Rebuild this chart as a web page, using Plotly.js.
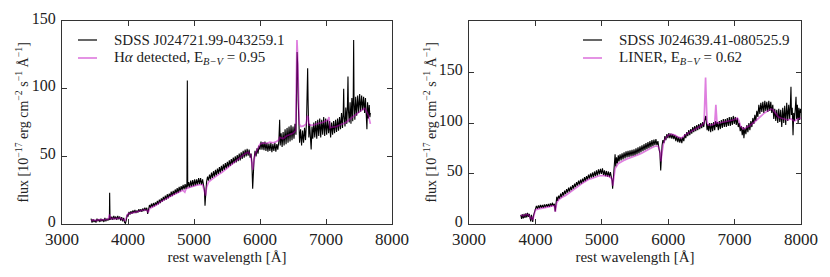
<!DOCTYPE html>
<html>
<head>
<meta charset="utf-8">
<script src="https://cdn.plot.ly/plotly-3.0.1.min.js"></script>
<style>html,body{margin:0;padding:0;background:#fff;}#chart{width:830px;height:277px;}</style>
</head>
<body>
<div id="chart"></div>
<script>
// ---- Left panel: SDSS J024721.99-043259.1 (observed) ----
const leftWave = [3440,3455,3470,3485,3500,3515,3530,3545,3560,3575,3590,3605,3620,3635,3650,3665,3680,3695,3710,3718,3722,3727,3740,3755,3770,3785,3800,3815,3830,3845,3860,3875,3890,3905,3920,3935,3950,3962,3975,3988,4000,4015,4030,4045,4060,4075,4090,4105,4120,4135,4150,4165,4180,4195,4210,4225,4240,4255,4270,4285,4298,4310,4325,4340,4355,4370,4385,4400,4415,4430,4445,4460,4475,4490,4505,4520,4535,4550,4565,4580,4595,4610,4625,4640,4655,4670,4685,4700,4715,4730,4745,4760,4775,4790,4805,4820,4835,4850,4865,4880,4893,4899,4905,4920,4935,4950,4965,4980,4995,5010,5025,5040,5055,5070,5085,5100,5115,5130,5145,5158,5167,5176,5190,5205,5220,5235,5250,5265,5280,5295,5310,5325,5340,5355,5370,5385,5400,5415,5430,5445,5460,5475,5490,5505,5520,5535,5550,5565,5580,5595,5610,5625,5640,5655,5670,5685,5700,5715,5730,5745,5760,5775,5790,5805,5820,5835,5850,5865,5877,5889,5897,5910,5925,5940,5955,5970,5985,6000,6015,6030,6045,6060,6075,6090,6105,6120,6135,6150,6165,6180,6195,6210,6225,6240,6255,6270,6285,6298,6306,6320,6335,6350,6365,6380,6395,6410,6425,6440,6455,6470,6485,6500,6515,6530,6545,6555,6562,6570,6578,6588,6600,6615,6630,6645,6660,6675,6690,6705,6716,6722,6730,6740,6752,6765,6775,6788,6800,6815,6830,6845,6860,6875,6890,6905,6920,6935,6950,6965,6980,6995,7010,7025,7040,7055,7070,7085,7100,7115,7130,7145,7160,7175,7190,7205,7220,7235,7250,7262,7268,7274,7288,7300,7315,7325,7333,7340,7352,7365,7378,7392,7405,7413,7419,7425,7437,7450,7465,7480,7495,7510,7525,7540,7555,7570,7585,7598,7608,7620,7630,7642,7655,7665,7672];
const leftFlux = [4,1,3.5,1.5,3,1,4,2,3.5,1.5,4,2,3.5,1.5,4.5,2,4,2.5,4,3,23,6,3,5.5,3,6,3.5,5.5,3,6,3.5,5.5,2.5,5,2,4.5,1,0.5,3,7,5.5,9,7,9.5,7.5,10,8,10.5,8,10,8.5,11,9,11,9,11.5,9.5,12,10,12,7.5,11,14,12,15,12.5,15.5,13,16,14,17,14.5,18,15.5,19,16.5,20,17.5,21,18,22,19,22.5,20,24,20.5,24.5,21.5,25.5,22.5,26.5,23,27.5,24,28,25,29,25.5,29.5,26,30,106,27,31,27,32,27.5,32.5,28,33,28.5,33,29,34,29.5,34,29,33,28,25,13.5,24,31,35,32,36.5,33,38,34,39,35,40,36,41,37,42,38,43,39,44,40,45,41,46,42,47,43,48,44,49,45,50,45.5,51,46.5,52,47,53,48,54,49,55,50,55.5,50.5,55,49,52,45,26,40,48,54,50,56,52,58,55,61,55,60.5,54.5,61,54,60,53.5,59.5,54,60,53,59,54,60,53.5,59,55,61,77,58,67,57,68,58,70,59,71,60,72,61,73,62,72,63,74,66,100,127,118,92,68,60,70,58,69,60,71,62,76,112,115,88,64,74,60,55,72,63,75,64,76,63,77,65,78,64,77,66,79,65,78,66,77,67,76,64,75,66,76,67,77,68,78,69,79,70,82,71,84,100,80,72,86,74,88,109,84,75,90,74,93,76,95,136,90,77,94,80,95,82,96,83,95,84,94,82,93,80,70,90,78,88,79,82];
// ---- Left panel: model (H-alpha detected, E(B-V)=0.95) ----
const leftModelWave = [3440,3480,3520,3560,3600,3650,3700,3722,3735,3780,3830,3880,3920,3950,3970,4000,4050,4100,4150,4200,4250,4290,4305,4330,4380,4430,4480,4530,4580,4630,4680,4730,4780,4830,4861,4880,4930,4980,5030,5080,5130,5160,5175,5190,5220,5270,5320,5370,5420,5470,5520,5570,5620,5670,5720,5770,5820,5860,5880,5892,5905,5930,5970,6000,6050,6100,6150,6200,6250,6280,6300,6350,6400,6450,6500,6540,6552,6560,6570,6584,6595,6620,6660,6700,6716,6731,6745,6800,6850,6900,6950,7000,7030,7045,7060,7090,7150,7200,7250,7300,7350,7400,7450,7500,7550,7590,7620,7645,7672];
const leftModelFlux = [2.5,3,2.5,3.2,3,3.3,3.5,7,4,4.2,4,4.5,3.5,2.5,4,7.5,8,8.5,9,10,10.5,10,8.5,11.5,12.5,14,16,17.5,19,20,21.5,22.5,24,25,23.5,26,27,28,28.5,29,29,24,21,27,31,33,35,36.5,38,40,42,44,46,48,50,52,53,51,44,40,46,52,56,59,60,59.5,60.5,60,61,62,64,63,65,66,67,69,110,136,125,100,74,72,72.5,74,80,79,73,73,74,74.5,75,76.5,77,79,71,71.5,72,73,74,75,77,79,81,83,84.5,85.5,83,80,74];

// ---- Right panel: SDSS J024639.41-080525.9 (observed) ----
const rightWave = [3780,3792,3805,3818,3830,3843,3856,3869,3882,3895,3908,3920,3930,3940,3950,3960,3970,3985,4000,4015,4030,4045,4060,4075,4090,4105,4120,4135,4150,4165,4180,4195,4210,4225,4240,4255,4270,4285,4298,4310,4322,4335,4350,4365,4380,4395,4410,4425,4440,4455,4470,4485,4500,4515,4530,4545,4560,4575,4590,4605,4620,4635,4650,4665,4680,4695,4710,4725,4740,4755,4770,4785,4800,4815,4830,4845,4860,4875,4890,4905,4920,4935,4950,4965,4980,4995,5010,5025,5040,5055,5070,5085,5100,5115,5130,5145,5155,5163,5172,5185,5200,5210,5222,5235,5248,5260,5275,5290,5305,5320,5335,5350,5365,5380,5395,5410,5425,5440,5455,5470,5485,5500,5515,5530,5545,5560,5575,5590,5605,5620,5635,5650,5665,5680,5695,5710,5725,5740,5755,5770,5785,5800,5815,5830,5845,5860,5875,5887,5896,5908,5920,5935,5950,5965,5980,5995,6010,6025,6040,6055,6070,6085,6100,6115,6130,6145,6160,6175,6190,6205,6220,6235,6250,6265,6280,6295,6310,6325,6340,6355,6370,6385,6400,6415,6430,6445,6460,6475,6490,6505,6520,6535,6548,6558,6566,6575,6586,6598,6610,6625,6640,6655,6670,6685,6700,6715,6728,6740,6755,6770,6785,6800,6815,6830,6845,6860,6875,6890,6905,6920,6935,6950,6965,6980,6995,7010,7025,7040,7055,7070,7085,7100,7115,7130,7140,7155,7170,7185,7200,7215,7230,7245,7260,7275,7290,7305,7320,7335,7350,7365,7380,7395,7410,7425,7440,7455,7470,7485,7500,7515,7530,7545,7560,7575,7590,7605,7620,7635,7650,7665,7680,7695,7710,7725,7740,7755,7770,7785,7800,7815,7830,7842,7849,7856,7868,7880,7890,7902,7914,7925,7934,7945,7957,7968,7980,7990,8000];
const rightFlux = [9,5,9.5,5.5,10,6,10.5,6.5,11,7,10,5,2.5,9,5,2,8,12,14.5,18,15,18.5,15.5,19,16,19,16,19.5,16.5,19.5,17,20,17,20.5,17.5,21,18,20,12.5,20,27,23,28,25,30,26.5,31.5,28,33,29.5,34.5,31,36,32,37,33.5,38.5,35,40,36.5,41.5,38,43,39,44,40,45,41.5,46.5,42.5,47.5,44,49,45,50,46,51,46.5,52,47.5,53,48,54,49,54.5,49.5,55,48.5,53,47.5,52.5,47,52,46.5,51.5,46,43,35,45,52,69,57,66,60,68,62,69,63,70,64,71,65,72,66,72.5,66.5,73,67,73.5,67.5,74,68,75,69,76,70,77,71,78,72,79,73,80,74,81,75,82,76,83,77,83.5,78,84,78,82,75,70,53,68,78,83,80,87,83,89,85,90,85,89.5,84.5,89,84,88,82,87,81,86,80.5,85.5,80,86,82,89,85,91,87,93,88,94,89.5,96,91,97,92,98,93,99,94,100,95,101,96,102,104,107,100,93,99,92,100,91,100,92,101,93,102,96,101,93,102,94,103,95,104,96,104,96,105,97,106,97,106,98,107,99,106,98,105,96,100,92,97,88,96,85,95,89,98,91,100,93,102,96,105,99,108,102,112,106,118,109,120,111,121,110,122,112,121,111,122,112,121,110,118,104,114,102,113,100,114,101,113,96,115,100,117,98,120,102,118,104,122,136,108,115,88,110,102,116,126,104,118,100,115,103,114,110];
// ---- Right panel: model (LINER, E(B-V)=0.62) ----
const rightModelWave = [3780,3820,3860,3900,3930,3945,3960,3980,4000,4050,4100,4150,4200,4250,4285,4300,4320,4350,4400,4450,4500,4550,4600,4650,4700,4750,4800,4850,4900,4950,5000,5050,5100,5150,5165,5180,5200,5250,5300,5350,5400,5450,5500,5550,5600,5650,5700,5750,5800,5850,5875,5890,5905,5930,5960,6000,6050,6100,6150,6200,6250,6300,6350,6400,6450,6500,6540,6555,6563,6572,6585,6600,6650,6700,6712,6718,6725,6735,6800,6850,6900,6950,7000,7040,7060,7090,7130,7170,7220,7300,7350,7400,7450,7500,7550,7580,7620,7660,7700,7750,7800,7850,7900,7950,8000];
const rightModelFlux = [9,8,9.5,9,5,7,4,9,14,15,15.5,16.5,17,18,18,12,21,24,26.5,28,30.5,33,35,37.5,40,42,44,45,46.5,47.5,48,48,47.5,45,38,45,55,60,62,63.5,65,66,67,68.5,70,72,74,75.5,77,77,72,62,70,80,85,88,89,88,86,85,88,90,92,94,96,97.5,100,120,145,125,102,98,98,99,110,118,110,100,100.5,101,102,102.5,103.5,105,103,97,94,95,97,101,104,108,110,112,114,113,109,106,105,104,103,104,102,104,105];

// ---- Labels ----
const xTicks = [3000,4000,5000,6000,7000,8000];
const yTicks = [0,50,100,150];
const leftNames = ['SDSS J024721.99-043259.1', 'H<i>α</i> detected, E<sub><i>B−V</i></sub> = 0.95'];
const rightNames = ['SDSS J024639.41-080525.9', 'LINER, E<sub><i>B−V</i></sub> = 0.62'];
const xTitle = 'rest wavelength [Å]';
const yTitle = 'flux [10<sup>−17</sup> erg cm<sup>−2</sup> s<sup>−1</sup> Å<sup>−1</sup>]';

const FONT = 'Liberation Serif, Times New Roman, serif';
const TXT = '#222';
const BLACK = '#000000';
const MAGENTA = 'rgba(191,0,191,0.5)';
const blackLine = {color: BLACK, width: 1.1};
const magLine = {color: MAGENTA, width: 1.7};

const traces = [
  {x: leftWave, y: leftFlux, type: 'scatter', mode: 'lines', line: blackLine, name: leftNames[0], xaxis: 'x', yaxis: 'y'},
  {x: leftModelWave, y: leftModelFlux, type: 'scatter', mode: 'lines', line: magLine, name: leftNames[1], xaxis: 'x', yaxis: 'y'},
  {x: rightWave, y: rightFlux, type: 'scatter', mode: 'lines', line: blackLine, name: rightNames[0], xaxis: 'x2', yaxis: 'y2'},
  {x: rightModelWave, y: rightModelFlux, type: 'scatter', mode: 'lines', line: magLine, name: rightNames[1], xaxis: 'x2', yaxis: 'y2'}
];

function xax(domain, anchor) {
  return {domain: domain, anchor: anchor, range: [3000, 8000], tickvals: xTicks, ticktext: xTicks.map(String),
    ticks: 'inside', ticklen: 5, tickcolor: '#333', mirror: 'ticks', showline: true, linecolor: '#333', linewidth: 1,
    showgrid: false, zeroline: false, tickfont: {family: FONT, size: 17, color: TXT},
    title: {text: xTitle, font: {family: FONT, size: 15, color: TXT}, standoff: 3}};
}
function yax(domain, anchor, top) {
  return {domain: domain, anchor: anchor, range: [0, top], tickvals: yTicks, ticktext: yTicks.map(String),
    ticks: 'inside', ticklen: 5, tickcolor: '#333', mirror: 'ticks', showline: true, linecolor: '#333', linewidth: 1,
    showgrid: false, zeroline: false, tickfont: {family: FONT, size: 16, color: TXT}, ticklabelstandoff: 2, ticklabelshift: -3};
}

// legend-like keys (paper pixel positions)
const W = 830, H = 277;
function px(x) { return x / W; }
function py(y) { return 1 - y / H; }
const keys = [
  {x0: 78, x1: 97, xt: 112, y: 40, color: BLACK, width: 1.2, text: leftNames[0]},
  {x0: 78, x1: 97, xt: 112, y: 58, color: MAGENTA, width: 1.7, text: leftNames[1]},
  {x0: 583, x1: 602, xt: 617, y: 40, color: BLACK, width: 1.2, text: rightNames[0]},
  {x0: 583, x1: 602, xt: 617, y: 58, color: MAGENTA, width: 1.7, text: rightNames[1]}
];
const shapes = keys.map(k => ({type: 'line', xref: 'paper', yref: 'paper', x0: px(k.x0), x1: px(k.x1), y0: py(k.y), y1: py(k.y),
  line: {color: k.color, width: k.width}}));
const annotations = keys.map(k => ({xref: 'paper', yref: 'paper', x: px(k.xt), y: py(k.y), xanchor: 'left', yanchor: 'middle',
  showarrow: false, text: k.text, font: {family: FONT, size: 15, color: TXT}}));
[22, 430].forEach(xc => annotations.push({xref: 'paper', yref: 'paper', x: px(xc), y: py(122.5), xanchor: 'center', yanchor: 'middle',
  showarrow: false, textangle: -90, text: yTitle, font: {family: FONT, size: 14, color: TXT}}));

const yDom = [53/277, 256/277];
const layout = {
  width: W, height: H,
  margin: {l: 0, r: 0, t: 0, b: 0},
  paper_bgcolor: '#ffffff', plot_bgcolor: '#ffffff',
  showlegend: false,
  xaxis: xax([62/830, 392/830], 'y'),
  yaxis: yax(yDom, 'x', 150),
  xaxis2: xax([469/830, 801/830], 'y2'),
  yaxis2: yax(yDom, 'x2', 201),
  shapes: shapes,
  annotations: annotations
};
Plotly.newPlot('chart', traces, layout, {displayModeBar: false, staticPlot: true});
</script>
</body>
</html>
